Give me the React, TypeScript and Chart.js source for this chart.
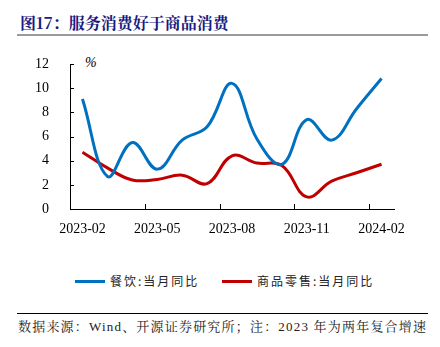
import React, { useEffect, useRef } from "react";
import { Chart, registerables } from "chart.js";

Chart.register(...registerables);

const categories = [
  "2023-02", "2023-03", "2023-04", "2023-05", "2023-06", "2023-07", "2023-08",
  "2023-09", "2023-10", "2023-11", "2023-12", "2024-01", "2024-02",
];
const cateringYoY = [9.1, 2.7, 5.5, 3.3, 5.7, 6.8, 10.4, 5.8, 3.7, 7.4, 5.7, 8.3, 10.8];
const goodsYoY = [4.7, 3.4, 2.4, 2.45, 2.8, 2.1, 4.4, 3.8, 3.6, 1.0, 2.3, 3.0, 3.7];
const seriesNames = ["餐饮:当月同比", "商品零售:当月同比"];
const seriesColors = ["#0070c0", "#c00000"];
const yTicks = { min: 0, max: 12, step: 2 };

const serif = "'Liberation Serif', 'Times New Roman', 'Noto Serif CJK SC', 'Noto Sans CJK SC', serif";
const cjk = "'Noto Sans CJK SC', 'Liberation Serif', serif";

const tickMarks = {
  id: "tickMarks",
  afterDraw(chart: any) {
    const ctx = chart.ctx;
    const x = chart.scales.x;
    const y = chart.scales.y;
    ctx.save();
    ctx.strokeStyle = "#000";
    ctx.lineWidth = 1;
    ctx.beginPath();
    y.ticks.forEach((t: any) => {
      const py = Math.round(y.getPixelForValue(t.value)) + 0.5;
      ctx.moveTo(x.left, py);
      ctx.lineTo(x.left + 4, py);
    });
    const half = (x.getPixelForValue(1) - x.getPixelForValue(0)) / 2;
    categories.forEach((_c, i) => {
      if (i % 3 === 0) {
        const px = Math.round(x.getPixelForValue(i) - half) + 0.5;
        ctx.moveTo(px, y.bottom);
        ctx.lineTo(px, y.bottom - 5);
      }
    });
    ctx.stroke();
    ctx.restore();
  },
};

export default function App() {
  const ref = useRef<HTMLCanvasElement>(null);
  useEffect(() => {
    if (!ref.current) return;
    const chart = new Chart(ref.current, {
      type: "line",
      data: {
        labels: categories,
        datasets: [
          {
            label: seriesNames[0],
            data: cateringYoY,
            borderColor: seriesColors[0],
            backgroundColor: seriesColors[0],
            borderWidth: 3,
            pointRadius: 0,
            tension: 0.4,
          },
          {
            label: seriesNames[1],
            data: goodsYoY,
            borderColor: seriesColors[1],
            backgroundColor: seriesColors[1],
            borderWidth: 3,
            pointRadius: 0,
            tension: 0.4,
          },
        ],
      },
      options: {
        animation: false,
        responsive: false,
        maintainAspectRatio: false,
        layout: { padding: { left: 0, right: 46, top: 24, bottom: 0 } },
        plugins: {
          legend: { display: false },
          tooltip: { enabled: false },
          title: { display: false },
        },
        scales: {
          x: {
            offset: true,
            grid: { display: false, offset: true },
            border: { display: true, color: "#000", width: 1 },
            ticks: {
              autoSkip: false,
              maxRotation: 0,
              padding: 4,
              color: "#000",
              font: { family: serif, size: 14 },
              callback: (_v: any, i: number) => (i % 3 === 0 ? categories[i] : ""),
            },
            afterFit: (s: any) => {
              s.height = 30;
            },
          },
          y: {
            min: yTicks.min,
            max: yTicks.max,
            grid: { display: false },
            border: { display: true, color: "#000", width: 1 },
            ticks: {
              stepSize: yTicks.step,
              padding: 13,
              color: "#000",
              font: { family: serif, size: 14 },
            },
            afterFit: (s: any) => {
              s.width = 70;
            },
          },
        },
      },
      plugins: [tickMarks],
    });
    return () => chart.destroy();
  }, []);

  const legendItem = (i: number, left: number) => (
    <div
      key={i}
      style={{
        position: "absolute",
        left,
        top: 272,
        height: 18,
        display: "flex",
        alignItems: "center",
        whiteSpace: "nowrap",
      }}
    >
      <div style={{ width: 30, height: 3, background: seriesColors[i], marginRight: 5 }} />
      <span style={{ fontFamily: cjk, fontSize: 12, letterSpacing: 2, color: "#222", lineHeight: "18px" }}>
        {seriesNames[i]}
      </span>
    </div>
  );

  return (
    <div
      style={{
        position: "absolute",
        left: 0,
        top: 0,
        width: 440,
        height: 347,
        background: "#fff",
        overflow: "hidden",
      }}
    >
      <div
        style={{
          position: "absolute",
          left: 20,
          top: 12,
          fontFamily: "'Noto Serif CJK SC', 'Noto Sans CJK SC', sans-serif",
          fontWeight: 700,
          fontSize: 16,
          color: "#1a1a80",
          lineHeight: "22px",
          whiteSpace: "nowrap",
        }}
      >
        图17：服务消费好于商品消费
      </div>
      <div
        style={{
          position: "absolute",
          left: 17,
          top: 34,
          width: 411,
          height: 2,
          background: "#9a9a9a",
        }}
      />
      <div style={{ position: "absolute", left: 85, top: 55, fontFamily: serif, fontSize: 14, fontStyle: "italic", color: "#000" }}>
        %
      </div>
      <canvas
        ref={ref}
        width={440}
        height={199}
        style={{ position: "absolute", left: 0, top: 40, width: 440, height: 199 }}
      />
      {legendItem(0, 75)}
      {legendItem(1, 222)}
      <div
        style={{
          position: "absolute",
          left: 17,
          top: 313,
          width: 411,
          height: 1,
          background: "#000",
        }}
      />
      <div
        style={{
          position: "absolute",
          left: 18,
          top: 318,
          fontFamily: serif,
          fontSize: 13,
          letterSpacing: 1.2,
          color: "#222",
          whiteSpace: "nowrap",
          lineHeight: "18px",
        }}
      >
        数据来源：Wind、开源证券研究所；注：2023 年为两年复合增速
      </div>
    </div>
  );
}
